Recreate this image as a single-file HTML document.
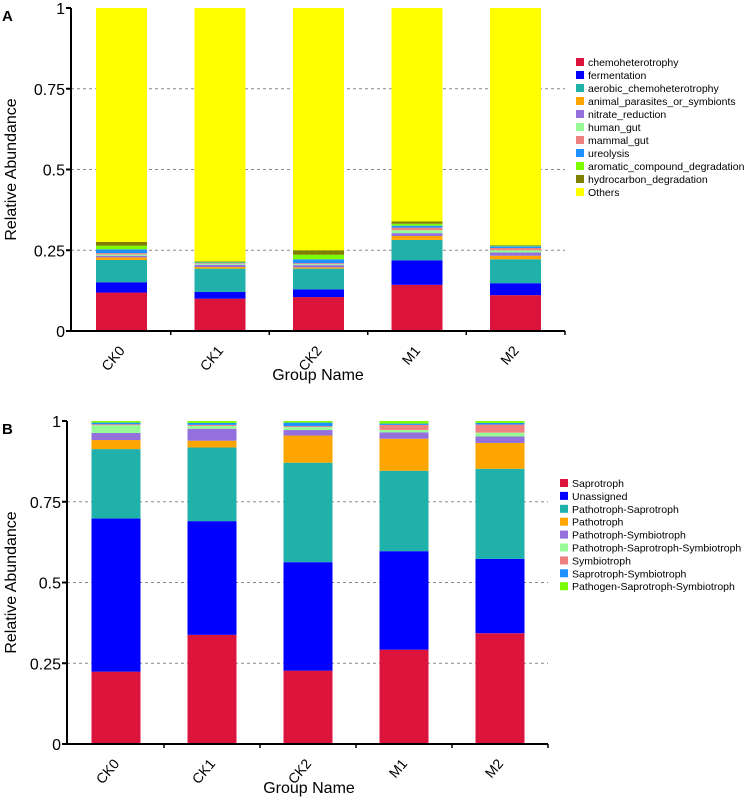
<!DOCTYPE html>
<html><head><meta charset="utf-8"><style>
body{margin:0;background:#fff;width:752px;height:799px;overflow:hidden}
svg text{font-family:"Liberation Sans",sans-serif}
</style></head><body>
<svg id="svg" width="752" height="799" xmlns="http://www.w3.org/2000/svg">
<text x="2" y="21" font-size="15" font-weight="bold">A</text>
<text x="2" y="434" font-size="15" font-weight="bold">B</text>
<g id="chartA"></g>
<g id="chartB"></g>
</svg>
<script>
const groups = ["CK0","CK1","CK2","M1","M2"];
const yTicks = [0,0.25,0.5,0.75,1];
const yTickLabels = ["0","0.25","0.5","0.75","1"];
const catsA = ["chemoheterotrophy","fermentation","aerobic_chemoheterotrophy","animal_parasites_or_symbionts","nitrate_reduction","human_gut","mammal_gut","ureolysis","aromatic_compound_degradation","hydrocarbon_degradation","Others"];
const colorsA = ["#dc143c","#0000ff","#20b2aa","#ffa500","#9370db","#98fb98","#f08080","#1e90ff","#7cfc00","#808000","#ffff00"];
const chemo = [0.119,0.100,0.105,0.143,0.111];
const ferm = [0.032,0.021,0.024,0.076,0.037];
const aerobic = [0.069,0.072,0.064,0.063,0.074];
const animal = [0.008,0.005,0.004,0.012,0.011];
const nitrate = [0.005,0.007,0.007,0.009,0.010];
const human = [0.004,0.003,0.003,0.009,0.007];
const mammal = [0.004,0.002,0.003,0.008,0.007];
const ureo = [0.012,0.002,0.012,0.006,0.005];
const aromatic = [0.011,0.002,0.014,0.006,0.002];
const hydro = [0.012,0.002,0.014,0.007,0.002];
const seriesA = [chemo,ferm,aerobic,animal,nitrate,human,mammal,ureo,aromatic,hydro];

const catsB = ["Saprotroph","Unassigned","Pathotroph-Saprotroph","Pathotroph","Pathotroph-Symbiotroph","Pathotroph-Saprotroph-Symbiotroph","Symbiotroph","Saprotroph-Symbiotroph","Pathogen-Saprotroph-Symbiotroph"];
const colorsB = ["#dc143c","#0000ff","#20b2aa","#ffa500","#9370db","#98fb98","#f08080","#1e90ff","#7cfc00"];
const sap = [0.224,0.338,0.227,0.292,0.343];
const unas = [0.474,0.352,0.336,0.305,0.230];
const pathSap = [0.215,0.228,0.308,0.249,0.279];
const path = [0.028,0.021,0.084,0.099,0.080];
const pathSym = [0.022,0.037,0.017,0.020,0.020];
const pss = [0.024,0.009,0.009,0.007,0.012];
const sym = [0.003,0.003,0.003,0.016,0.025];
const sapSym = [0.005,0.006,0.011,0.004,0.005];
const pathogen = [0.005,0.006,0.005,0.008,0.006];
const seriesB = [sap,unas,pathSap,path,pathSym,pss,sym,sapSym,pathogen];

const NS="http://www.w3.org/2000/svg";
function mk(parent,tag,attrs,text){const e=document.createElementNS(NS,tag);for(const k in attrs)e.setAttribute(k,attrs[k]);if(text!==undefined)e.textContent=text;parent.appendChild(e);return e;}

function draw(g,cfg,series,cats,colors,withOthers){
  const y=v=>cfg.y0-v*(cfg.y0-cfg.y1);
  const x=i=>cfg.xc0+i*cfg.step;
  yTicks.forEach((t,i)=>{
    if(t>0&&t<1){const l=mk(g,'line',{x1:cfg.ax,x2:cfg.axEnd,y1:y(t),y2:y(t),stroke:'#888','stroke-dasharray':'3,3','stroke-width':1});
    
    }
    const tk=mk(g,'line',{x1:cfg.ax-5,x2:cfg.ax,y1:y(t),y2:y(t),stroke:'#000','stroke-width':2});
    
    
    const tl=mk(g,'text',{x:cfg.ax-6,y:y(t)+6,'font-size':16,'text-anchor':'end'},yTickLabels[i]);
    
    
  });
  groups.forEach((gn,i)=>{
    let acc=0;
    series.forEach((s,k)=>{
      const r=mk(g,'rect',{x:x(i)-cfg.bw/2,width:cfg.bw,y:y(acc+s[i]),height:y(acc)-y(acc+s[i]),fill:colors[k]});
      
      
      acc+=s[i];
    });
    if(withOthers){
      const r=mk(g,'rect',{x:x(i)-cfg.bw/2,width:cfg.bw,y:y(1),height:y(acc)-y(1),fill:colors[colors.length-1]});
      
      
    }
    const tx=x(i)+4, ty=cfg.y0+20;
    const t=mk(g,'text',{x:tx,y:ty,'font-size':14,'text-anchor':'end',transform:`rotate(-50 ${tx} ${ty})`},gn);
    
    
    if(i<groups.length-1){const tk=mk(g,'line',{x1:x(i)+cfg.step/2,x2:x(i)+cfg.step/2,y1:cfg.y0,y2:cfg.y0+4,stroke:'#000','stroke-width':1.5});
    
    }
  });
  const ya=mk(g,'line',{x1:cfg.ax,x2:cfg.ax,y1:cfg.y1,y2:cfg.y0+1,stroke:'#000','stroke-width':2});
  
  
  const xa=mk(g,'line',{x1:cfg.ax-5,x2:cfg.axEnd,y1:cfg.y0,y2:cfg.y0,stroke:'#000','stroke-width':2});
  
  
  const end=mk(g,'line',{x1:cfg.axEnd,x2:cfg.axEnd,y1:cfg.y0,y2:cfg.y0+4,stroke:'#000','stroke-width':1.5});
  
  
  const yt=mk(g,'text',{x:0,y:0,'font-size':16,'text-anchor':'middle',transform:`translate(16 ${(cfg.y0+cfg.y1)/2}) rotate(-90)`},'Relative Abundance');
  
  
  const xt=mk(g,'text',{x:cfg.xTitleX,y:cfg.xTitleY,'font-size':16,'text-anchor':'middle'},'Group Name');
  
  
  cats.forEach((c,k)=>{
    const ly=cfg.legY+k*cfg.legStep;
    const sw=mk(g,'rect',{x:cfg.legX,y:ly-4,width:8,height:8,fill:colors[k]});
    
    
    const lt=mk(g,'text',{x:cfg.legX+12,y:ly+4,'font-size':cfg.legFont},c);
    
    
  });
}
draw(document.getElementById('chartA'),{y0:331,y1:8,ax:71,axEnd:565,xc0:121.5,step:98.5,bw:51,xTitleX:318,xTitleY:380,legX:576,legY:62,legStep:13,legFont:10.5},seriesA,catsA,colorsA,true);
draw(document.getElementById('chartB'),{y0:744,y1:421,ax:67,axEnd:548,xc0:116,step:96,bw:49,xTitleX:309,xTitleY:793,legX:560,legY:483,legStep:12.9,legFont:10.5},seriesB,catsB,colorsB,false);
</script>
</body></html>
